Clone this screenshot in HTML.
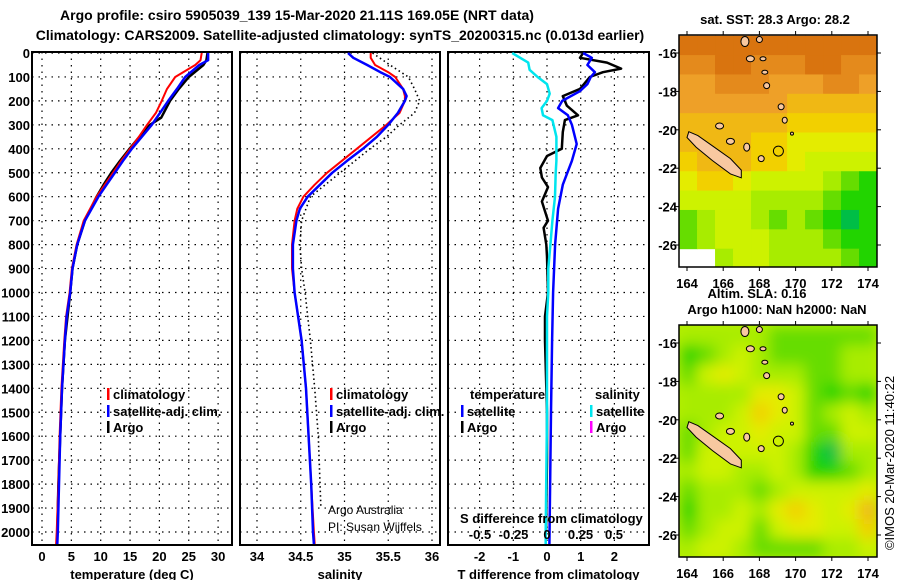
<!DOCTYPE html>
<html><head><meta charset="utf-8"><style>
html,body{margin:0;padding:0;background:#fff;}
svg{display:block;font-family:"Liberation Sans",Arial,sans-serif;}
.b{font-weight:bold;font-size:13px;}
</style></head><body>
<svg id="s" width="900" height="580" viewBox="0 0 900 580" xmlns="http://www.w3.org/2000/svg">
<defs>
<clipPath id="cm1"><rect x="679" y="35" width="198" height="232"/></clipPath>
<clipPath id="cm2"><rect x="679" y="325" width="198" height="232"/></clipPath>
<clipPath id="cp1"><rect x="32" y="52" width="200" height="493"/></clipPath>
<clipPath id="cp2"><rect x="240" y="52" width="200" height="493"/></clipPath>
<clipPath id="cp3"><rect x="448" y="52" width="201" height="493"/></clipPath>
<filter id="blur" x="-10%" y="-10%" width="120%" height="120%"><feGaussianBlur stdDeviation="7"/></filter>
</defs>
<text x="297" y="20" text-anchor="middle" font-weight="bold" font-size="14">Argo profile: csiro 5905039_139 15-Mar-2020 21.11S 169.05E (NRT data)</text>
<text x="340" y="40" text-anchor="middle" font-weight="bold" font-size="14">Climatology: CARS2009. Satellite-adjusted climatology: synTS_20200315.nc (0.013d earlier)</text>
<g id="g"></g>
</svg>
<script>
// ---- profile data ----
var tempDepth = [0,30,50,100,150,200,250,300,350,400,450,500,550,600,700,800,900,1000,1100,1200,1400,1600,1800,2000,2050];
var tempSat   = [28.3,28.3,26.8,24.4,23.0,21.5,20.1,18.7,17.0,15.3,13.8,12.4,11.0,9.6,7.3,6.0,5.2,4.8,4.2,3.9,3.4,3.1,2.9,2.7,2.6];
var tempClim  = [27.2,27.0,26.1,22.7,21.3,20.4,19.4,17.9,16.5,15.0,13.5,12.1,10.7,9.3,7.1,5.9,5.1,4.7,4.1,3.8,3.3,3.0,2.8,2.5,2.4];
var tempArgoDepth = [0,30,50,100,150,200,270,300,350,400,450,500,550,600,700,800,900,1000,1200,1400,1600,1800,2000];
var tempArgo  = [28.2,28.0,27.5,25.0,23.3,21.8,20.3,18.4,16.6,14.9,13.3,11.8,10.5,9.3,7.3,6.0,5.2,4.8,3.9,3.4,3.1,2.8,2.6];

var salDepth = [0,20,50,80,100,150,180,200,250,300,350,400,450,500,550,600,650,700,800,900,1000,1100,1200,1400,1600,1800,2000,2050];
var salSat   = [35.04,35.10,35.26,35.41,35.52,35.67,35.71,35.69,35.61,35.50,35.37,35.21,35.03,34.86,34.72,34.58,34.49,34.45,34.41,34.41,34.43,34.47,34.51,34.56,34.59,34.62,34.64,34.65];
var salClim  = [35.30,35.30,35.35,35.50,35.58,35.67,35.69,35.69,35.63,35.48,35.31,35.14,34.97,34.80,34.66,34.53,34.46,34.43,34.40,34.40,34.43,34.47,34.51,34.56,34.59,34.62,34.65,34.66];
var salArgoDepth = [0,50,100,150,200,250,300,350,400,500,600,700,800,900,1000,1100,1200,1400,1600,1900];
var salArgo  = [35.32,35.52,35.73,35.80,35.86,35.80,35.63,35.48,35.29,34.95,34.61,34.51,34.49,34.51,34.55,34.58,34.61,34.66,34.70,34.73];

var sDiffDepth = [0,20,40,70,100,130,170,200,230,260,280,350,450,500,600,700,800,900,1000,1100,1200,1500,2000,2050];
var sDiffSat   = [-0.26,-0.2,-0.14,-0.13,-0.07,0.0,0.02,0.0,-0.04,-0.03,0.04,0.07,0.07,0.065,0.06,0.04,0.025,0.01,0.01,0.0,0.0,0.0,-0.01,-0.01];
var tDiffSatDepth = [0,20,50,80,100,130,160,200,230,260,300,380,450,550,650,800,1000,1200,1500,2050];
var tDiffSat   = [1.07,1.33,1.2,1.42,1.3,1.2,0.97,0.45,0.33,0.62,0.74,0.88,0.74,0.47,0.33,0.24,0.18,0.15,0.12,0.07];
var tDiffArgoDepth = [0,20,40,65,80,100,150,180,220,260,280,330,400,430,480,520,560,620,700,730,800,850,1000,1100,1200,1500,1700,2000];
var tDiffArgo  = [1.07,0.98,1.78,2.2,1.66,1.27,0.98,0.47,0.59,0.92,0.53,0.47,0.44,0.0,-0.2,-0.15,0.03,-0.15,0.03,-0.1,-0.02,0.0,0.03,-0.06,-0.06,0.0,0.0,-0.03];

// ---- axis ticks ----
var depthTicks = [0,100,200,300,400,500,600,700,800,900,1000,1100,1200,1300,1400,1500,1600,1700,1800,1900,2000];
var tempTicks = [0,5,10,15,20,25,30];
var salTicks = [34,34.5,35,35.5,36];
var tDiffTicks = [-2,-1,0,1,2];
var sDiffTicks = [-0.5,-0.25,0,0.25,0.5];
var sDiffTickLabels = ["-0.5","-0.25","0","0.25","0.5"];
var lonTicks = [164,166,168,170,172,174];
var latTicks = [-16,-18,-20,-22,-24,-26];

// ---- map grids (rows from north -15.1 to south -27.2, cols from 163.56 to 174.5) ----
var sstGrid = [
[0,0,0,0,0,0,0,0,0,0,0],
[0.5,0.5,0,0,0.5,0.5,0.5,0,0,0.5,0.5],
[1,1,0.5,0.5,0.5,1,1,1,0.5,0.5,1],
[1,1,1,1,1,1,1.5,1.5,1.5,1.5,1.5],
[1.5,1.5,1.5,1.5,1.5,1.5,2,2,2,2,2],
[1.5,1.5,1.5,1.5,2,2,2.5,2.5,2.5,2.5,2.5],
[2,1.5,1.5,1.5,2,2,2.5,3,3,3,3],
[2.5,2,2,2.5,3,3,3,3,3.5,4,4.5],
[3,3,3,3,3.5,3.5,3.5,3.5,4,4.5,4.5],
[4,3.5,3,3,3.5,4,3.5,4,4.5,5,4.5],
[4,3.5,3,3,3,3.5,3.5,3.5,4,4.5,4.5],
[null,null,3.5,3,3,3.5,3.5,3.5,3.5,4,4.5]];
var slaGrid = [
[3.5,3.5,3.5,3.5,3.5,4,4,4,4,4,4],
[4.5,4,3.5,3,3.5,4,4,4,4,3.5,3.5],
[4,3,2.5,3,3.5,3.5,3.5,4,4,3.5,3.5],
[3.5,3.5,3.5,3.5,2.5,2.5,3,4,4.5,4,4.5],
[3.5,3.5,3.5,3,2,2.5,3,4,3.5,3,3.5],
[4,3.5,3,3,2.5,3,3,4,4,3,3],
[4,3,3,3,3,3,3.5,4.5,5,3.5,3.5],
[3.5,3,3,3.5,3.5,3,3.5,4.5,4.5,4,3.5],
[4,3.5,3.5,3.5,4,3.5,3,3,3,3,2.5],
[4.5,3.5,3.5,3,3.5,2.5,2,2.5,3,2.5,1.5],
[4,3.5,3,3,4,3,2.5,2.5,3,3,2],
[3.5,3,3,3.5,4,4,4,4,3.5,3.5,3]];

var NS="http://www.w3.org/2000/svg";
var G=document.getElementById('g');
function mk(tag,at,parent){var e=document.createElementNS(NS,tag);for(var k in at)e.setAttribute(k,at[k]);(parent||G).appendChild(e);return e;}
function tx(str,x,y,anchor,cls,parent){var e=mk('text',{x:x,y:y,'text-anchor':anchor||'middle','class':cls||'b'},parent);e.textContent=str;return e;}

function yDepth(d){return 53+d*0.2395;}
function xTemp(v){return 42+v*5.87;}
function xSal(v){return 257+(v-34)*87.5;}
function xTD(v){return 547+v*33.7;}
function xSD(v){return 547+v*134;}

var panels=[{x:32,w:200,ticks:tempTicks,f:xTemp,lab:'temperature (deg C)',name:'temperature-panel',clip:'cp1'},
{x:240,w:200,ticks:salTicks,f:xSal,lab:'salinity',name:'salinity-panel',clip:'cp2'},
{x:448,w:201,ticks:tDiffTicks,f:xTD,lab:'T difference from climatology',name:'difference-panel',clip:'cp3'}];
panels.forEach(function(p){
  var g=mk('g',{});
  
  
  depthTicks.forEach(function(d){
    var l=mk('line',{x1:p.x,x2:p.x+p.w,y1:yDepth(d),y2:yDepth(d),stroke:'#000','stroke-width':1.2,'stroke-dasharray':'1.5,5'},g);
    
    
  });
  p.ticks.forEach(function(t){
    var xx=p.f(t);
    var l=mk('line',{x1:xx,x2:xx,y1:52,y2:545,stroke:'#000','stroke-width':1.2,'stroke-dasharray':'1.5,5'},g);
    
    
    var lab=tx(String(t),xx,561,'middle','b',g);
    
    
  });
  var fr=mk('rect',{x:p.x,y:52,width:p.w,height:493,fill:'none',stroke:'#000','stroke-width':2},g);
  
  
  var at=tx(p.lab,p.x+p.w/2,579,'middle','b',g);
  
  
});
depthTicks.forEach(function(d){
  var t=tx(String(d),30,yDepth(d)+5,'end','b');
  
  
});

function line(depths,vals,fx,color,w,clip,name,dash){
  var pts=depths.map(function(d,i){return fx(vals[i]).toFixed(1)+','+yDepth(d).toFixed(1);}).join(' ');
  var at={points:pts,fill:'none',stroke:color,'stroke-width':w,'clip-path':'url(#'+clip+')','stroke-linejoin':'round'};
  if(dash)at['stroke-dasharray']=dash;
  var e=mk('polyline',at);
  
  
}
line(tempArgoDepth,tempArgo,xTemp,'#000',2.5,'cp1','temp-argo-line');
line(tempDepth,tempClim,xTemp,'#f00',2,'cp1','temp-climatology-line');
line(tempDepth,tempSat,xTemp,'#00f',2.5,'cp1','temp-satellite-line');
line(salArgoDepth,salArgo,xSal,'#000',1.6,'cp2','sal-argo-line','1.5,3');
line(salDepth,salClim,xSal,'#f00',2,'cp2','sal-climatology-line');
line(salDepth,salSat,xSal,'#00f',2.5,'cp2','sal-satellite-line');
line(tDiffArgoDepth,tDiffArgo,xTD,'#000',2.5,'cp3','tdiff-argo-line');
line(tDiffSatDepth,tDiffSat,xTD,'#00f',2.5,'cp3','tdiff-satellite-line');
line(sDiffDepth,sDiffSat,xSD,'#00e5ee',2.5,'cp3','sdiff-satellite-line');

function legend(x,y,color,label){
  var g=mk('g',{});
  
  
  mk('rect',{x:x,y:y-11,width:2.5,height:12,fill:color},g);
  tx(label,x+6,y,'start','b',g);
}
legend(107,399,'#f00','climatology');legend(107,416,'#00f','satellite-adj. clim.');legend(107,432,'#000','Argo');
legend(330,399,'#f00','climatology');legend(330,416,'#00f','satellite-adj. clim.');legend(330,432,'#000','Argo');
var t1=tx('temperature',470,399,'start');
var t2=tx('salinity',595,399,'start');
legend(461,416,'#00f','satellite');legend(461,432,'#000','Argo');
legend(590,416,'#00e5ee','satellite');legend(590,432,'#f0f','Argo');
var c1=tx('Argo Australia',328,514,'start','n');c1.setAttribute('font-size','12');
var c2=tx('PI: Susan Wijffels',328,531,'start','n');c2.setAttribute('font-size','12');
var sdt=tx('S difference from climatology',460,523,'start');
sDiffTicks.forEach(function(v,i){var e=tx(sDiffTickLabels[i],xSD(v),539,'middle');});

// ---- maps ----
var stops=[[0,[217,116,15]],[1,[238,160,40]],[2,[242,208,0]],[2.5,[228,236,0]],[3,[205,242,0]],[3.5,[168,236,0]],[4,[102,221,0]],[4.5,[34,212,0]],[5,[0,190,70]]];
function col(v){
  for(var i=1;i<stops.length;i++){if(v<=stops[i][0]){var a=stops[i-1],b=stops[i],t=(v-a[0])/(b[0]-a[0]);
    return 'rgb('+[0,1,2].map(function(k){return Math.round(a[1][k]+t*(b[1][k]-a[1][k]));}).join(',')+')';}}
  return 'rgb(0,190,70)';
}
function mx(lon){return 687+(lon-164)*18.1;}
function my(lat,off){return off+53+(-16-lat)*19.2;}
var islands=[[167.2,-15.4,4,5],[168.0,-15.3,3,3],[167.5,-16.3,4,3],[168.2,-16.3,3,2],[168.3,-17.0,3,2],[168.4,-17.7,3,3],[169.2,-18.8,3,3],[169.4,-19.5,2.5,3],[165.8,-19.8,4,3],[166.4,-20.6,4,3],[167.3,-20.9,3,4],[168.1,-21.5,3,3],[169.8,-20.2,1.5,1.5]];
var newCal=[[164.1,-20.1],[164.6,-20.3],[165.5,-20.9],[166.4,-21.5],[167.0,-22.1],[167.0,-22.5],[166.4,-22.3],[165.4,-21.6],[164.5,-20.9],[164.0,-20.4]];
function drawMap(grid,off,clip,blur,name){
  var g=mk('g',{'clip-path':'url(#'+clip+')'});
  
  
  var gg=mk('g',blur?{filter:'url(#blur)'}:{},g);
  if(blur)mk('rect',{x:660,y:off+15,width:240,height:272,fill:col(3.3)},gg);
  var cw=(174.5-163.56)/11, ch=(27.2-15.1)/12;
  grid.forEach(function(row,r){row.forEach(function(v,c){
    if(v===null)return;
    var x0=mx(163.56+c*cw),x1=mx(163.56+(c+1)*cw),y0=my(-15.1-r*ch,off),y1=my(-15.1-(r+1)*ch,off);
    var e=mk('rect',{x:x0-(blur?0:0),y:y0,width:x1-x0+0.5,height:y1-y0+0.5,fill:col(v)},gg);
    
    
  });});
  var nc=mk('polygon',{points:newCal.map(function(p){return mx(p[0])+','+my(p[1],off);}).join(' '),fill:'#f8c8a0',stroke:'#000','stroke-width':1},g);
  
  
  islands.forEach(function(p){var e=mk('ellipse',{cx:mx(p[0]),cy:my(p[1],off),rx:p[2],ry:p[3],fill:'#f8c8a0',stroke:'#000','stroke-width':1},g);
    });
  var ci=mk('circle',{cx:mx(169.05),cy:my(-21.11,off),r:5,fill:'none',stroke:'#000','stroke-width':1},g);
  
  
  var fr=mk('rect',{x:679,y:off+35,width:198,height:232,fill:'none',stroke:'#000','stroke-width':1.5});
  
  
  lonTicks.forEach(function(l){
    mk('line',{x1:mx(l),x2:mx(l),y1:off+31,y2:off+35,stroke:'#000'});
    mk('line',{x1:mx(l),x2:mx(l),y1:off+267,y2:off+271,stroke:'#000'});
    var e=tx(String(l),mx(l),off+288,'middle');e.setAttribute('font-size','14');
    
  });
  latTicks.forEach(function(l){
    mk('line',{x1:675,x2:679,y1:my(l,off),y2:my(l,off),stroke:'#000'});
    mk('line',{x1:877,x2:881,y1:my(l,off),y2:my(l,off),stroke:'#000'});
    var e=tx(String(l),677,my(l,off)+5,'end');e.setAttribute('font-size','14');
    
  });
}
drawMap(sstGrid,0,'cm1',false,'sst-map');
drawMap(slaGrid,290,'cm2',true,'sla-map');
var m1=tx('sat. SST: 28.3 Argo: 28.2',775,24,'middle');
var m2=tx('Altim. SLA: 0.16',757,298,'middle');
var m3=tx('Argo h1000: NaN h2000: NaN',777,314,'middle');
var cp=tx('©IMOS 20-Mar-2020 11:40:22',0,0,'middle','n');cp.setAttribute('font-size','13');cp.setAttribute('transform','translate(894,463) rotate(-90)');

</script>
</body></html>
